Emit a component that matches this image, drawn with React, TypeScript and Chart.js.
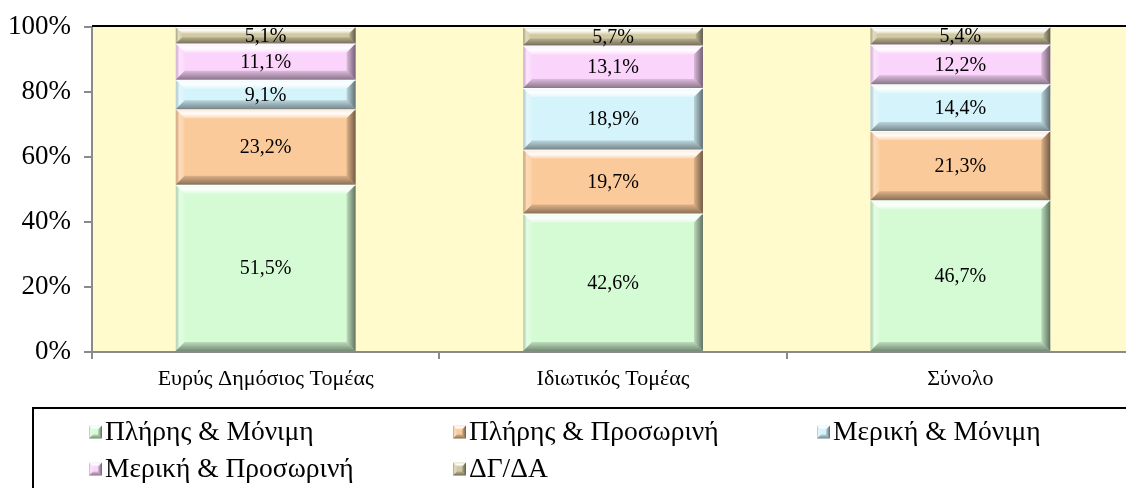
import React, { useEffect, useRef } from "react";
import { Chart, registerables } from "chart.js";

Chart.register(...registerables);

const categories = ["Ευρύς Δημόσιος Τομέας", "Ιδιωτικός Τομέας", "Σύνολο"];
const seriesNames = ["Πλήρης & Μόνιμη", "Πλήρης & Προσωρινή", "Μερική & Μόνιμη", "Μερική & Προσωρινή", "ΔΓ/ΔΑ"];
const fullPermanent = [51.5, 42.6, 46.7];
const fullTemporary = [23.2, 19.7, 21.3];
const partPermanent = [9.1, 18.9, 14.4];
const partTemporary = [11.1, 13.1, 12.2];
const dkDa = [5.1, 5.7, 5.4];
const seriesColors = ["#D5FBD5", "#FBCA9A", "#D4F3FB", "#FBD4FB", "#D2C9A2"];

const FONT = "'Liberation Serif', 'Times New Roman', serif";

function fmt(v: number) {
  return v.toFixed(1).replace(".", ",") + "%";
}

function drawBevel(ctx: CanvasRenderingContext2D, l: number, t: number, r: number, btm: number, bSize: number) {
  const b = Math.min(bSize, (btm - t) / 2.6, (r - l) / 2.6);
  let g = ctx.createLinearGradient(0, t, 0, t + b);
  g.addColorStop(0, "rgba(255,255,255,0.55)");
  g.addColorStop(0.5, "rgba(255,255,255,0.95)");
  g.addColorStop(1, "rgba(255,255,255,0.25)");
  ctx.fillStyle = g;
  ctx.beginPath();
  ctx.moveTo(l, t); ctx.lineTo(r, t); ctx.lineTo(r - b, t + b); ctx.lineTo(l + b, t + b); ctx.closePath();
  ctx.fill();
  g = ctx.createLinearGradient(l, 0, l + b, 0);
  g.addColorStop(0, "rgba(0,0,0,0.12)");
  g.addColorStop(0.4, "rgba(255,255,255,0.35)");
  g.addColorStop(1, "rgba(255,255,255,0.1)");
  ctx.fillStyle = g;
  ctx.beginPath();
  ctx.moveTo(l, t); ctx.lineTo(l + b, t + b); ctx.lineTo(l + b, btm - b); ctx.lineTo(l, btm); ctx.closePath();
  ctx.fill();
  g = ctx.createLinearGradient(r - b, 0, r, 0);
  g.addColorStop(0, "rgba(0,0,0,0.12)");
  g.addColorStop(1, "rgba(0,0,0,0.55)");
  ctx.fillStyle = g;
  ctx.beginPath();
  ctx.moveTo(r, t); ctx.lineTo(r, btm); ctx.lineTo(r - b, btm - b); ctx.lineTo(r - b, t + b); ctx.closePath();
  ctx.fill();
  g = ctx.createLinearGradient(0, btm - b, 0, btm);
  g.addColorStop(0, "rgba(0,0,0,0.12)");
  g.addColorStop(1, "rgba(0,0,0,0.45)");
  ctx.fillStyle = g;
  ctx.beginPath();
  ctx.moveTo(l, btm); ctx.lineTo(r, btm); ctx.lineTo(r - b, btm - b); ctx.lineTo(l + b, btm - b); ctx.closePath();
  ctx.fill();
}

const plotBgPlugin = {
  id: "plotBg",
  beforeDraw(chart: any) {
    const { ctx, chartArea } = chart;
    ctx.save();
    ctx.fillStyle = "#FFFBCC";
    ctx.fillRect(chartArea.left, chartArea.top, chartArea.right - chartArea.left, chartArea.bottom - chartArea.top);
    ctx.restore();
  },
};

const bevelLabelPlugin = {
  id: "bevelLabels",
  afterDatasetsDraw(chart: any) {
    const ctx = chart.ctx as CanvasRenderingContext2D;
    ctx.save();
    chart.data.datasets.forEach((ds: any, di: number) => {
      const meta = chart.getDatasetMeta(di);
      meta.data.forEach((el: any, i: number) => {
        const p = el.getProps(["x", "y", "base", "width"], true);
        const l = p.x - p.width / 2;
        const r = p.x + p.width / 2;
        const t = Math.min(p.y, p.base);
        const btm = Math.max(p.y, p.base);
        drawBevel(ctx, l, t, r, btm, 9);
        ctx.strokeStyle = "rgba(255,255,255,0.8)";
        ctx.lineWidth = 1;
        ctx.beginPath();
        ctx.moveTo(l, t + 0.5);
        ctx.lineTo(r, t + 0.5);
        ctx.stroke();
        ctx.fillStyle = "#000";
        ctx.font = "20px " + FONT;
        ctx.textAlign = "center";
        ctx.textBaseline = "middle";
        ctx.fillText(fmt(ds.data[i]), p.x, (t + btm) / 2 + 1);
      });
    });
    ctx.restore();
  },
};

const frameLegendPlugin = {
  id: "frameLegend",
  afterDraw(chart: any) {
    const ctx = chart.ctx as CanvasRenderingContext2D;
    const { chartArea } = chart;
    ctx.save();
    ctx.strokeStyle = "#000";
    ctx.lineWidth = 2;
    ctx.beginPath();
    ctx.moveTo(chartArea.left, chartArea.top - 1);
    ctx.lineTo(chart.width, chartArea.top - 1);
    ctx.stroke();

    ctx.strokeRect(33, 408, 1200, 200);
    ctx.font = "27.5px " + FONT;
    ctx.textAlign = "left";
    ctx.textBaseline = "middle";
    const colX = [89, 453, 817];
    const rowY = [432, 469];
    chart.data.datasets.forEach((ds: any, i: number) => {
      const x = colX[i % 3];
      const y = rowY[Math.floor(i / 3)];
      const s = 13;
      ctx.fillStyle = ds.backgroundColor;
      ctx.fillRect(x, y - s / 2, s, s);
      drawBevel(ctx, x, y - s / 2, x + s, y + s / 2, 4);
      ctx.fillStyle = "#000";
      ctx.fillText(ds.label, x + s + 3, y + 1);
    });
    ctx.restore();
  },
};

export default function App() {
  const canvasRef = useRef<HTMLCanvasElement | null>(null);

  useEffect(() => {
    if (!canvasRef.current) return;
    const seriesValues = [fullPermanent, fullTemporary, partPermanent, partTemporary, dkDa];
    const chart = new Chart(canvasRef.current, {
      type: "bar",
      data: {
        labels: categories,
        datasets: seriesNames.map((name, i) => ({
          label: name,
          data: seriesValues[i],
          backgroundColor: seriesColors[i],
          borderWidth: 0,
          barPercentage: 0.518,
          categoryPercentage: 1,
        })),
      },
      options: {
        responsive: false,
        animation: false,
        devicePixelRatio: 1,
        layout: { padding: { top: 27, bottom: 96, left: 0, right: 6 } },
        plugins: {
          legend: { display: false },
          tooltip: { enabled: false },
        },
        scales: {
          x: {
            stacked: true,
            afterFit: (scale: any) => {
              scale.height = 40;
              scale.paddingLeft = 0;
              scale.paddingRight = 0;
            },
            border: { display: true, color: "#8A8A8A", width: 2 },
            grid: {
              display: true,
              offset: true,
              drawOnChartArea: false,
              drawTicks: true,
              tickLength: 7,
              color: "#8A8A8A",
              lineWidth: 2,
            },
            ticks: {
              color: "#000",
              padding: 7,
              font: { family: FONT, size: 22 },
              maxRotation: 0,
            },
          },
          y: {
            stacked: true,
            min: 0,
            max: 100,
            afterFit: (scale: any) => {
              scale.width = 92;
              scale.paddingTop = 0;
              scale.paddingBottom = 0;
            },
            border: { display: true, color: "#8A8A8A", width: 2 },
            grid: {
              display: true,
              drawOnChartArea: false,
              drawTicks: true,
              tickLength: 8,
              color: "#8A8A8A",
              lineWidth: 2,
            },
            ticks: {
              stepSize: 20,
              color: "#000",
              padding: 13,
              font: { family: FONT, size: 27, lineHeight: 1 },
              callback: (v: any) => v + "%",
            },
          },
        },
      },
      plugins: [plotBgPlugin, bevelLabelPlugin, frameLegendPlugin],
    });
    return () => chart.destroy();
  }, []);

  return (
    <div
      style={{
        position: "fixed",
        left: 0,
        top: 0,
        width: 1126,
        height: 488,
        overflow: "hidden",
        background: "#fff",
      }}
    >
      <canvas ref={canvasRef} width={1140} height={488} style={{ display: "block", width: 1140, height: 488 }} />
    </div>
  );
}
